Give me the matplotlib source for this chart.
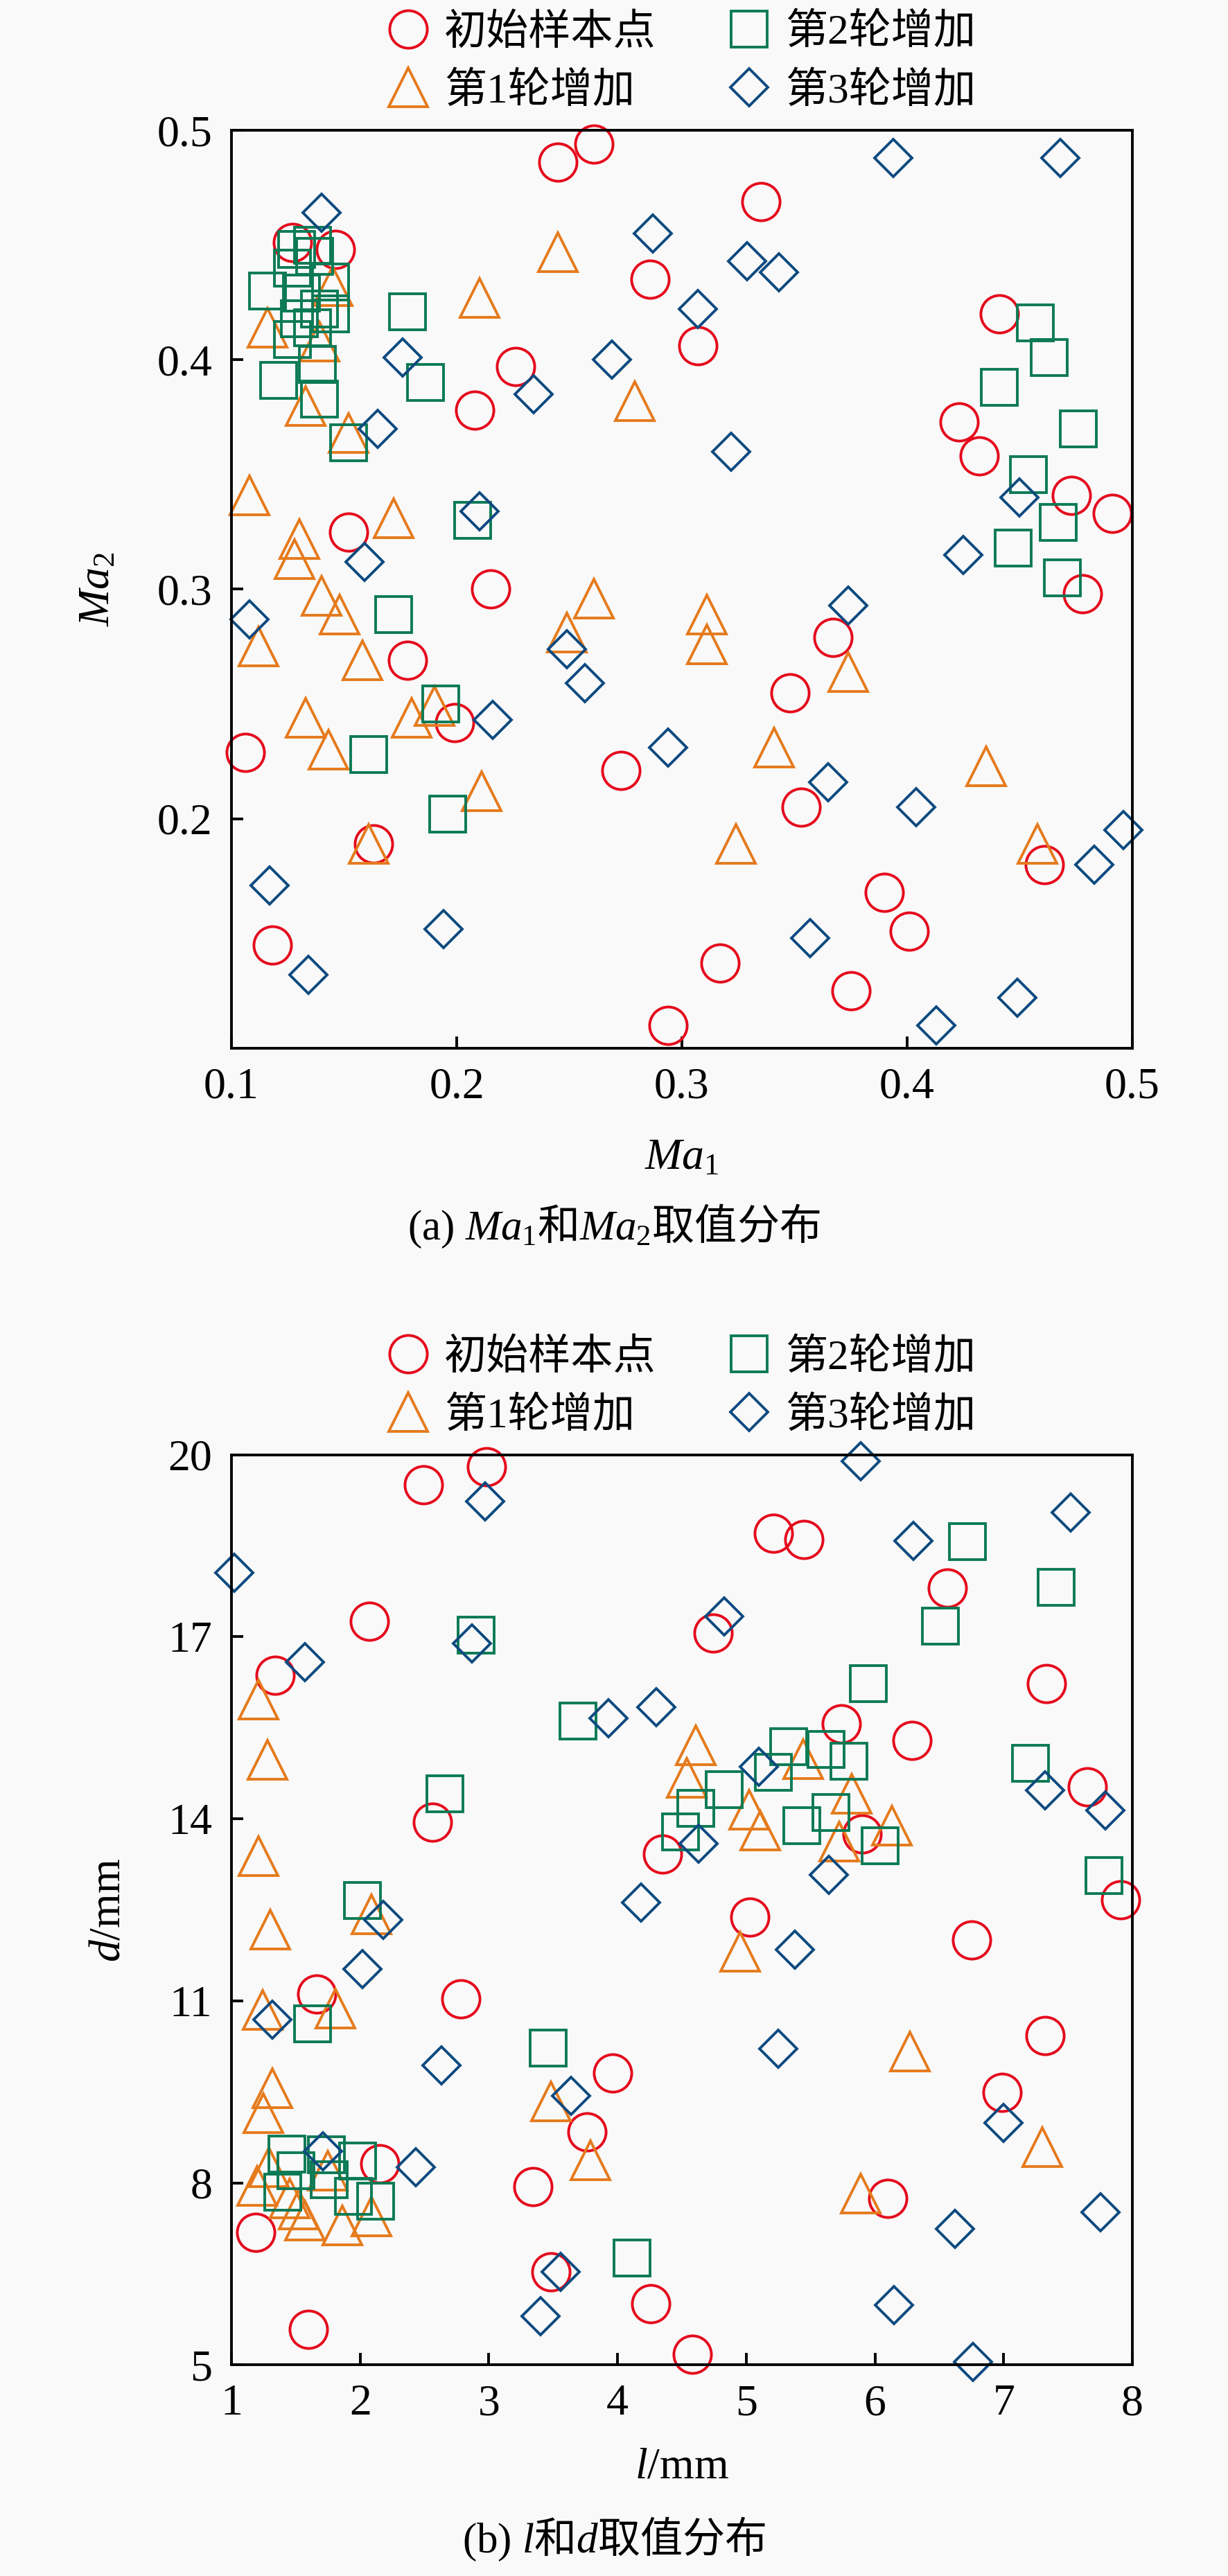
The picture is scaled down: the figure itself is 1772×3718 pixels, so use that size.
import matplotlib
matplotlib.use('Agg')
import matplotlib.pyplot as plt

plt.rcParams['font.family'] = ['Liberation Serif', 'Noto Sans CJK SC']
plt.rcParams['mathtext.fontset'] = 'custom'
plt.rcParams['mathtext.rm'] = 'Liberation Serif'
plt.rcParams['mathtext.it'] = 'Liberation Serif:italic'
plt.rcParams['mathtext.sf'] = 'Noto Sans CJK SC'

# === series names ===
labels = ['初始样本点', '第1轮增加', '第2轮增加', '第3轮增加']

# === (a) Ma1 / Ma2 ===
init_ma1 = [0.245, 0.261, 0.127, 0.146, 0.286, 0.226, 0.208, 0.152, 0.215, 0.307, 0.335,
            0.441, 0.423, 0.432, 0.473, 0.491, 0.478, 0.178, 0.199, 0.106, 0.273, 0.163,
            0.118, 0.294, 0.367, 0.348, 0.353, 0.461, 0.390, 0.401, 0.317, 0.375]
init_ma2 = [0.486, 0.494, 0.451, 0.448, 0.435, 0.397, 0.378, 0.325, 0.300, 0.406, 0.469,
            0.420, 0.373, 0.358, 0.341, 0.333, 0.298, 0.269, 0.242, 0.229, 0.221, 0.189,
            0.145, 0.110, 0.279, 0.255, 0.205, 0.180, 0.168, 0.151, 0.137, 0.125]

r1_ma1 = [0.245, 0.210, 0.279, 0.116, 0.133, 0.152, 0.108, 0.172, 0.130, 0.128, 0.140,
          0.148, 0.112, 0.158, 0.133, 0.143, 0.180, 0.190, 0.211, 0.161, 0.261, 0.249,
          0.311, 0.311, 0.374, 0.341, 0.435, 0.324, 0.458, 0.145, 0.139]
r1_ma2 = [0.447, 0.427, 0.382, 0.414, 0.380, 0.368, 0.341, 0.331, 0.322, 0.313, 0.297,
          0.289, 0.275, 0.269, 0.244, 0.230, 0.244, 0.249, 0.212, 0.189, 0.296, 0.281,
          0.289, 0.276, 0.264, 0.231, 0.223, 0.189, 0.189, 0.432, 0.408]

r2_ma1 = [0.129, 0.136, 0.127, 0.137, 0.144, 0.131, 0.116, 0.130, 0.139, 0.144, 0.136,
          0.127, 0.138, 0.121, 0.139, 0.152, 0.178, 0.186, 0.207, 0.172, 0.161, 0.193,
          0.196, 0.457, 0.463, 0.441, 0.476, 0.454, 0.467, 0.447, 0.469]
r2_ma2 = [0.448, 0.450, 0.440, 0.445, 0.434, 0.429, 0.430, 0.418, 0.422, 0.420, 0.414,
          0.409, 0.398, 0.391, 0.383, 0.364, 0.421, 0.390, 0.330, 0.289, 0.228, 0.250,
          0.202, 0.416, 0.401, 0.388, 0.370, 0.350, 0.329, 0.318, 0.305]

r3_ma1 = [0.140, 0.176, 0.234, 0.269, 0.287, 0.165, 0.210, 0.159, 0.394, 0.468, 0.329,
          0.343, 0.307, 0.322, 0.450, 0.425, 0.108, 0.249, 0.257, 0.216, 0.294, 0.117,
          0.194, 0.134, 0.374, 0.365, 0.404, 0.496, 0.483, 0.357, 0.449, 0.413]
r3_ma2 = [0.464, 0.401, 0.385, 0.400, 0.455, 0.370, 0.334, 0.312, 0.488, 0.488, 0.443,
          0.438, 0.422, 0.360, 0.340, 0.315, 0.287, 0.274, 0.259, 0.243, 0.231, 0.171,
          0.152, 0.132, 0.293, 0.216, 0.205, 0.195, 0.180, 0.148, 0.122, 0.110]

# === (b) l / d ===
init_l = [2.98, 2.49, 2.07, 1.34, 2.56, 4.35, 5.21, 5.45, 6.56, 4.74, 7.33, 5.74, 6.29, 7.65,
          5.90, 7.91, 5.03, 6.75, 7.32, 6.99, 1.66, 2.78, 3.96, 3.76, 2.15, 3.34, 1.19, 1.60,
          3.48, 4.26, 4.58, 6.10]
init_d = [19.80, 19.50, 17.25, 16.37, 13.94, 13.42, 18.70, 18.60, 17.80, 17.06, 16.23, 15.56,
          15.29, 14.53, 13.75, 12.67, 12.38, 12.00, 10.43, 9.49, 11.11, 11.03, 9.81, 8.84,
          8.32, 7.94, 7.19, 5.59, 6.53, 6.01, 5.18, 7.74]

r1_l = [1.21, 1.28, 1.21, 1.30, 2.09, 1.24, 1.81, 1.32, 1.25, 3.48, 3.79, 4.61, 4.54, 5.44,
        5.82, 5.02, 5.11, 6.13, 5.72, 4.95, 6.27, 7.30, 5.89, 1.20, 1.29, 1.45, 1.52, 1.57,
        1.86, 2.09, 1.75]
r1_d = [15.97, 14.97, 13.38, 12.18, 12.43, 10.85, 10.87, 9.56, 9.15, 9.34, 8.37, 15.21, 14.68,
        14.98, 14.41, 14.15, 13.81, 13.89, 13.62, 11.81, 10.17, 8.59, 7.82, 7.95, 8.26, 7.75,
        7.56, 7.38, 7.30, 7.45, 8.20]

r2_l = [2.90, 3.69, 2.66, 2.02, 6.72, 7.41, 6.51, 5.95, 5.33, 5.62, 5.80, 5.21, 7.21, 4.83,
        4.61, 5.66, 5.43, 6.04, 7.78, 4.49, 1.63, 3.46, 4.11, 1.43, 1.74, 1.98, 1.50, 1.40,
        1.76, 1.95, 2.12]
r2_d = [17.03, 15.61, 14.41, 12.65, 18.57, 17.82, 17.17, 16.23, 15.19, 15.14, 14.95, 14.77,
        14.91, 14.48, 14.17, 14.10, 13.89, 13.56, 13.07, 13.79, 10.62, 10.22, 6.76, 8.48,
        8.46, 8.36, 8.20, 7.85, 8.05, 7.78, 7.70]

r3_l = [2.97, 1.02, 1.57, 2.87, 3.93, 4.30, 4.18, 5.89, 7.52, 6.30, 4.83, 5.10, 4.63, 5.64,
        7.32, 7.79, 5.38, 5.25, 7.00, 2.18, 2.02, 1.32, 2.63, 3.64, 2.43, 1.71, 6.62, 7.75,
        3.56, 3.40, 6.15, 6.76]
r3_d = [19.23, 18.05, 16.58, 16.89, 15.66, 15.84, 12.62, 19.89, 19.05, 18.58, 17.33, 14.86,
        13.59, 13.08, 14.47, 14.14, 11.84, 10.21, 8.99, 12.33, 11.52, 10.69, 9.94, 9.44, 8.26,
        8.52, 7.24, 7.52, 6.54, 5.80, 5.99, 5.05]

# === styles ===
colors = ['#e5091c', '#e57a1c', '#0c7a55', '#0d4a80']
markers = ['o', '^', 's', 'D']
msizes = [19.5, 20.5, 19, 13.8]
FS = 22

fig = plt.figure(figsize=(8.86, 18.59), dpi=200, facecolor='#f9f9f9')
ax1 = fig.add_axes([0.1885, 0.5931, 0.7336, 0.3563])
ax2 = fig.add_axes([0.1885, 0.0819, 0.7336, 0.3534])


def draw(ax, series):
    ax.set_facecolor('#f9f9f9')
    for (xs, ys), c, m, ms, lab in zip(series, colors, markers, msizes, labels):
        ax.plot(xs, ys, ls='none', marker=m, ms=ms, mfc='none', mec=c, mew=1.4,
                label=lab, clip_on=False)
    for sp in ax.spines.values():
        sp.set_linewidth(1.4)
    ax.tick_params(direction='in', length=6, width=1.4, labelsize=FS + 1, pad=10,
                   top=False, right=False)
    ax.legend(loc='center', bbox_to_anchor=(0.497, 1.074), ncol=2, frameon=False,
              fontsize=FS, handletextpad=0.25, columnspacing=1.6, labelspacing=0.45,
              handlelength=1.2, borderpad=0.1)


draw(ax1, [(init_ma1, init_ma2), (r1_ma1, r1_ma2), (r2_ma1, r2_ma2), (r3_ma1, r3_ma2)])
ax1.set_xlim(0.1, 0.5)
ax1.set_ylim(0.1, 0.5)
ax1.set_xticks([0.1, 0.2, 0.3, 0.4, 0.5])
ax1.set_yticks([0.2, 0.3, 0.4, 0.5])
ax1.set_xlabel(r'$Ma_1$', fontsize=FS + 1, labelpad=16)
ax1.set_ylabel(r'$Ma_2$', fontsize=FS + 1, labelpad=20)

draw(ax2, [(init_l, init_d), (r1_l, r1_d), (r2_l, r2_d), (r3_l, r3_d)])
ax2.set_xlim(1, 8)
ax2.set_ylim(5, 20)
ax2.set_xticks(range(1, 9))
ax2.set_yticks([5, 8, 11, 14, 17, 20])
ax2.set_xlabel(r'$l$/mm', fontsize=FS + 1, labelpad=12)
ax2.set_ylabel(r'$d$/mm', fontsize=FS + 1, labelpad=20)

fig.text(0.5, 0.5239, r'(a) $Ma_1\mathsf{和}Ma_2\mathsf{取值分布}$', ha='center', va='center',
         fontsize=FS)
fig.text(0.5, 0.0143, r'(b) $l\mathsf{和}d\mathsf{取值分布}$', ha='center', va='center',
         fontsize=FS)

fig.savefig('out.png', dpi=200, facecolor=fig.get_facecolor())
